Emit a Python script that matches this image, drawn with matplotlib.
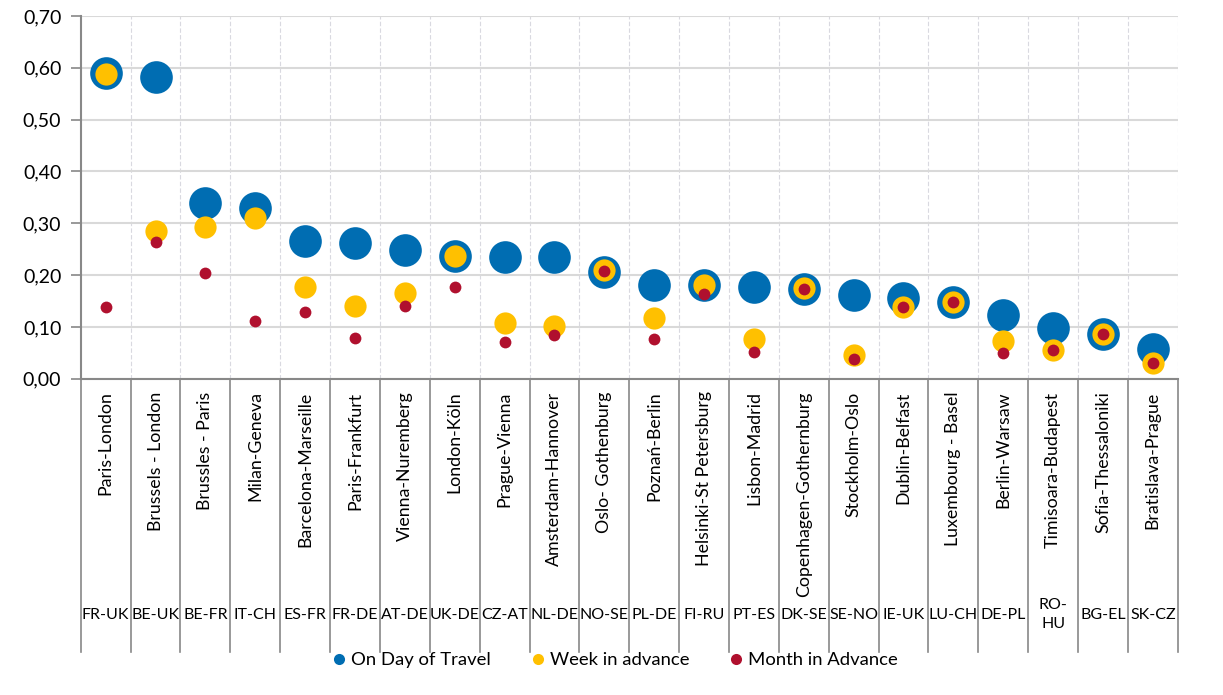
import numpy as np
import matplotlib.pyplot as plt
import matplotlib.transforms as mtransforms
from matplotlib.lines import Line2D
from matplotlib.ticker import FuncFormatter

routes = ['Paris-London', 'Brussels - London', 'Brussles - Paris', 'Milan-Geneva',
          'Barcelona-Marseille', 'Paris-Frankfurt', 'Vienna-Nuremberg', 'London-Köln',
          'Prague-Vienna', 'Amsterdam-Hannover', 'Oslo- Gothenburg', 'Poznań-Berlin',
          'Helsinki-St Petersburg', 'Lisbon-Madrid', 'Copenhagen-Gothernburg',
          'Stockholm-Oslo', 'Dublin-Belfast', 'Luxembourg - Basel', 'Berlin-Warsaw',
          'Timisoara-Budapest', 'Sofia-Thessaloniki', 'Bratislava-Prague']
codes = ['FR-UK', 'BE-UK', 'BE-FR', 'IT-CH', 'ES-FR', 'FR-DE', 'AT-DE', 'UK-DE',
         'CZ-AT', 'NL-DE', 'NO-SE', 'PL-DE', 'FI-RU', 'PT-ES', 'DK-SE', 'SE-NO',
         'IE-UK', 'LU-CH', 'DE-PL', 'RO-\nHU', 'BG-EL', 'SK-CZ']

day_of_travel = [0.590, 0.582, 0.339, 0.330, 0.266, 0.262, 0.249, 0.237, 0.235, 0.235,
                 0.206, 0.181, 0.180, 0.177, 0.173, 0.162, 0.156, 0.149, 0.123, 0.098,
                 0.087, 0.057]
week_advance = [0.589, 0.286, 0.292, 0.310, 0.178, 0.141, 0.165, 0.237, 0.107, 0.101,
                0.209, 0.118, 0.181, 0.076, 0.175, 0.046, 0.138, 0.149, 0.072, 0.056,
                0.087, 0.030]
month_advance = [0.138, 0.263, 0.205, 0.112, 0.129, 0.078, 0.141, 0.177, 0.070, 0.085,
                 0.207, 0.077, 0.163, 0.051, 0.173, 0.039, 0.138, 0.149, 0.050, 0.056,
                 0.087, 0.030]

blue = '#006DB2'
yellow = '#FFC000'
red = '#B0102E'
plt.rcParams['font.family'] = ['Lato', 'DejaVu Sans']

fig = plt.figure(figsize=(12.23, 6.95), dpi=100)
ax = fig.add_axes([0.066, 0.455, 0.897, 0.522])

x = np.arange(len(routes))
ax.plot(x, day_of_travel, 'o', ms=23.5, color=blue, mec='none', zorder=3)
ax.plot(x, week_advance, 'o', ms=16, color=yellow, mec='none', zorder=4)
ax.plot(x, month_advance, 'o', ms=8.5, color=red, mec='none', zorder=5)

ax.set_xlim(-0.5, len(routes) - 0.5)
ax.set_ylim(0, 0.70)
ax.set_yticks(np.arange(0, 0.71, 0.1))
ax.yaxis.set_major_formatter(FuncFormatter(lambda v, p: f'{v:.2f}'.replace('.', ',')))
ax.yaxis.grid(True, color='#d9d9d9', lw=1.5)
for b in np.arange(0.5, len(routes), 1):
    ax.axvline(b, color='#d9d9e0', lw=0.8, ls=(0, (4, 2)), zorder=0)
ax.set_axisbelow(True)
ax.set_xticks([])
ax.tick_params(axis='y', labelsize=14, color='#888888', length=7, width=1.2, pad=7)
for s in ['top', 'right']:
    ax.spines[s].set_visible(False)
for s in ['left', 'bottom']:
    ax.spines[s].set_color('#888888')
    ax.spines[s].set_linewidth(1.5)

# two-level category axis below the plot
trans = mtransforms.blended_transform_factory(ax.transData, ax.transAxes)
for b in np.arange(-0.5, len(routes), 1):
    ax.plot([b, b], [0, -0.752], color='#888888', lw=1.2, transform=trans, clip_on=False)
for i in range(len(routes)):
    ax.text(i, -0.035, routes[i], rotation=90, ha='center', va='top', fontsize=12.8,
            transform=trans)
    ax.text(i, -0.65, codes[i], ha='center', va='center', fontsize=11.5,
            transform=trans, linespacing=1.5)

handles = [Line2D([], [], marker='o', ls='none', ms=8, color=c, mec='none')
           for c in (blue, yellow, red)]
fig.legend(handles, ['On Day of Travel', 'Week in advance', 'Month in Advance'],
           loc='center', bbox_to_anchor=(0.503, 0.05), ncol=3, frameon=False,
           fontsize=13.3, handlelength=0.7, handletextpad=0.3, columnspacing=2.2)

fig.savefig('out.png', dpi=100)
